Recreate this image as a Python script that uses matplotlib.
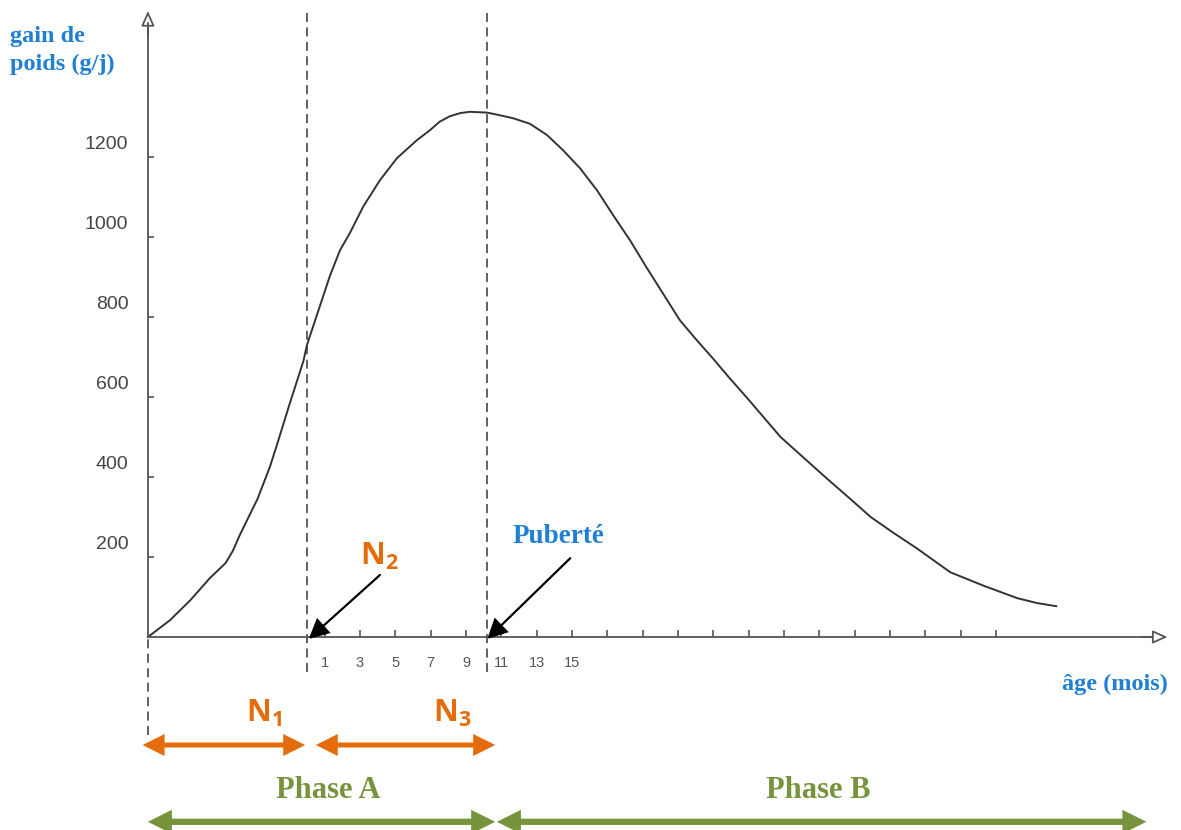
import matplotlib.pyplot as plt
from matplotlib.patches import FancyArrowPatch

plt.rcParams['mathtext.fontset'] = 'custom'
plt.rcParams['mathtext.bf'] = 'Open Sans:bold'
plt.rcParams['mathtext.rm'] = 'Open Sans'

# curve: age in months (0 = birth), weight gain in g/day
age = [-9, -7.75, -6.6, -5.5, -4.6, -4.2, -3.8, -2.8, -2.1, -1.7, -1.0, -0.2,
       0, 1.3, 1.87, 2.43, 3.17, 4.13, 5.09, 6.22, 6.96, 7.5, 8.09, 8.7,
       9.22, 10.19, 10.75, 11.66, 12.62, 13.58, 14.49, 15.45, 16.41, 17.32,
       18.28, 19.2, 21.1, 22.0, 23.0, 23.9, 24.9, 26.8, 29.4, 30.7, 31.9,
       33.2, 34.5, 36.4, 38.3, 40.2, 41.3, 42.4]
gain = [0, 42, 92, 147, 185, 215, 255, 345, 425, 480, 580, 690,
        730, 903, 967, 1010, 1075, 1142, 1197, 1242, 1267, 1288, 1302, 1310,
        1313, 1311, 1306, 1297, 1283, 1255, 1217, 1172, 1117, 1055,
        992, 925, 792, 745, 695, 648, 598, 500, 397, 347, 300,
        260, 222, 162, 128, 97, 85, 77]

y_ticks = [200, 400, 600, 800, 1000, 1200]
x_ticks = list(range(1, 40, 2))
x_labels = ['1', '3', '5', '7', '9', '11', '13', '15'] + [''] * 12

conception = -9
birth = 0
puberty = 10.2
axis_end = 48.7

grey = '#555555'
blue = '#1f7fd4'
orange = '#e46c0a'
green = '#77933c'

fig = plt.figure(figsize=(11.81, 8.30), dpi=100)
ax = fig.add_axes([0, 0, 1, 1])
ax.set_xlim(-17.37, 49.46)
ax.set_ylim(-482.5, 1592.5)

# axes through the origin (conception)
for s in ['top', 'right']:
    ax.spines[s].set_visible(False)
ax.spines['left'].set_position(('data', conception))
ax.spines['bottom'].set_position(('data', 0))
ax.spines['left'].set_bounds(0, 1535)
ax.spines['bottom'].set_bounds(conception, axis_end - 0.9)
for s in ['left', 'bottom']:
    ax.spines[s].set_color(grey)
    ax.spines[s].set_linewidth(1.3)

ax.set_yticks(y_ticks)
ax.tick_params(axis='y', direction='in', length=4, width=1.2, color=grey,
               labelleft=False)
ax.set_xticks(x_ticks, x_labels)
ax.tick_params(axis='x', direction='in', length=5, width=1.2, color=grey,
               pad=14, labelsize=10.5, labelcolor=grey)
for lab in ax.get_xticklabels():
    lab.set_family('Liberation Sans')

for v in y_ticks:
    ax.annotate(str(v), (conception, v), xytext=(-14, 9),
                textcoords='offset points', ha='right', va='center',
                fontsize=14, color='#444444', family='Liberation Sans')

# open arrow heads at the end of the axes
head = '-|>,head_length=0.9,head_width=0.4'
ax.add_patch(FancyArrowPatch((conception, 1500), (conception, 1565),
                             arrowstyle=head, mutation_scale=10, fc='white',
                             ec=grey, lw=1.3, shrinkA=0, shrinkB=0))
ax.add_patch(FancyArrowPatch((axis_end - 1.5, 0), (axis_end, 0),
                             arrowstyle=head, mutation_scale=10, fc='white',
                             ec=grey, lw=1.3, shrinkA=0, shrinkB=0))

# dashed markers
ax.vlines([birth, puberty], -87, 1562, colors=grey, lw=1.3,
          linestyles=(0, (5, 3)))
ax.vlines(conception, -245, 0, colors=grey, lw=1.3, linestyles=(0, (5, 3)))

ax.plot(age, gain, color='#333333', lw=1.4)

# black pointers
for tip, tail in [((birth + 0.1, -5), (4.13, 155)),
                  ((puberty, -5), (14.9, 197))]:
    ax.annotate('', xy=tip, xytext=tail,
                arrowprops=dict(arrowstyle='-|>,head_length=1.0,head_width=0.5',
                                mutation_scale=12, lw=1.6, color='black',
                                shrinkA=0, shrinkB=0, joinstyle='miter'))

# period arrows
row_n = -270
row_phase = -462
for x0, x1 in [(conception - 0.3, birth - 0.1), (birth + 0.5, puberty + 0.45)]:
    ax.add_patch(FancyArrowPatch((x0, row_n), (x1, row_n),
                                 arrowstyle='<|-|>,head_length=1.0,head_width=0.5',
                                 mutation_scale=10, color=orange, lw=3.6,
                                 shrinkA=0, shrinkB=0, joinstyle='miter',
                                 capstyle='butt'))
for x0, x1 in [(conception, puberty + 0.45), (puberty + 0.55, 47.5)]:
    ax.add_patch(FancyArrowPatch((x0, row_phase), (x1, row_phase),
                                 arrowstyle='<|-|>,head_length=1.0,head_width=0.5',
                                 mutation_scale=10, color=green, lw=4.5,
                                 shrinkA=0, shrinkB=0, joinstyle='miter',
                                 capstyle='butt'))


def px(x, y):
    return x / 1181, 1 - y / 830


serif = dict(family='Liberation Serif', weight='bold')
fig.text(*px(10, 42), 'gain de', color=blue, fontsize=17.5, va='baseline', **serif)
fig.text(*px(10, 70), 'poids (g/j)', color=blue, fontsize=17.5, va='baseline', **serif)
fig.text(*px(1062, 690), 'âge (mois)', color=blue, fontsize=17.5, va='baseline', **serif)
fig.text(*px(513, 543), 'Puberté', color=blue, fontsize=19.5, va='baseline', **serif)
fig.text(*px(328, 798), 'Phase A', color=green, fontsize=22, ha='center',
         va='baseline', **serif)
fig.text(*px(818, 798), 'Phase B', color=green, fontsize=22, ha='center',
         va='baseline', **serif)

fig.text(*px(360, 565), r'$\mathbf{N_2}$', color=orange, fontsize=22, va='baseline')
fig.text(*px(246, 722), r'$\mathbf{N_1}$', color=orange, fontsize=22, va='baseline')
fig.text(*px(433, 722), r'$\mathbf{N_3}$', color=orange, fontsize=22, va='baseline')

fig.savefig('out.png', dpi=100)
